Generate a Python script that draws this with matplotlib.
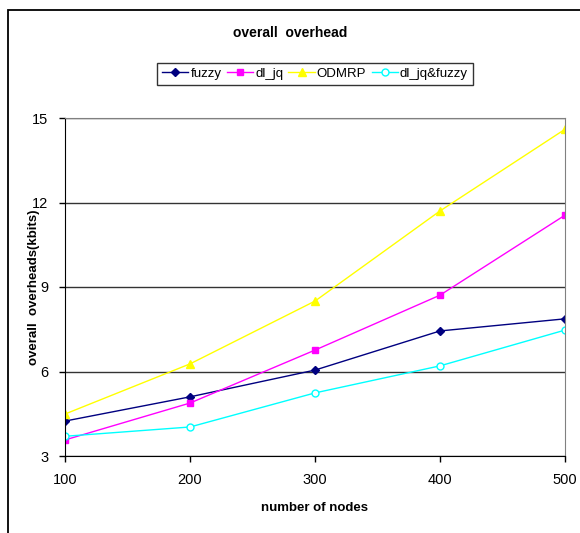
import matplotlib
matplotlib.use('Agg')
import matplotlib.pyplot as plt
from matplotlib.patches import Rectangle

nodes = [100, 200, 300, 400, 500]
fuzzy = [4.24, 5.10, 6.05, 7.44, 7.87]
dl_jq = [3.57, 4.88, 6.76, 8.71, 11.55]
odmrp = [4.49, 6.27, 8.50, 11.70, 14.60]
dl_jq_fuzzy = [3.70, 4.03, 5.24, 6.20, 7.47]

plt.rcParams['font.family'] = ['Liberation Sans', 'DejaVu Sans']


def main():
    fig = plt.figure(figsize=(5.8, 5.33), dpi=100)
    fig.patches.append(Rectangle((8 / 580, -0.1), 1.2, 1.1 - 10 / 533,
                                 transform=fig.transFigure, fill=False,
                                 edgecolor='black', linewidth=1.3))
    ax = fig.add_axes([65 / 580, 77 / 533, 500 / 580, 338 / 533])

    ax.plot(nodes, fuzzy, color='#000080', marker='D', markersize=4.5, lw=1, label='fuzzy')
    ax.plot(nodes, dl_jq, color='#ff00ff', marker='s', markersize=5, lw=1, label='dl_jq')
    ax.plot(nodes, odmrp, color='#ffff00', marker='^', markersize=6, lw=1, label='ODMRP')
    ax.plot(nodes, dl_jq_fuzzy, color='#00ffff', marker='o', markersize=5,
            markerfacecolor='white', lw=1, label='dl_jq&fuzzy')

    ax.set_xlim(100, 500)
    ax.set_ylim(3, 15)
    ax.set_xticks(nodes)
    ax.set_yticks([3, 6, 9, 12, 15])
    ax.yaxis.grid(True, color='#333333', lw=1)
    ax.set_axisbelow(True)
    ax.tick_params(direction='out', length=4, width=1, labelsize=10.5, pad=8)
    for s in ['top', 'right']:
        ax.spines[s].set_color('#808080')
    ax.spines['left'].set_color('black')
    ax.spines['bottom'].set_color('black')

    ax.set_xlabel('number of nodes', fontsize=9.5, fontweight='bold')
    ax.set_ylabel('overall  overheads(kbits)', fontsize=9.5, fontweight='bold')
    ax.xaxis.set_label_coords(0.5, -0.135)
    ax.yaxis.set_label_coords(-0.05, 0.5)
    fig.text(0.5, 1 - 33 / 533, 'overall  overhead', ha='center', va='center',
             fontsize=10, fontweight='bold')

    leg = ax.legend(loc='center', bbox_to_anchor=(315 / 580, 1 - 74 / 533),
                    bbox_transform=fig.transFigure, ncol=4, fontsize=9.5,
                    frameon=True, fancybox=False, edgecolor='black',
                    handlelength=2.0, handletextpad=0.15, columnspacing=0.4,
                    borderpad=0.35, borderaxespad=0)
    leg.get_frame().set_linewidth(1)

    fig.savefig('out.png', dpi=100)


if __name__ == "__main__":
    main()
